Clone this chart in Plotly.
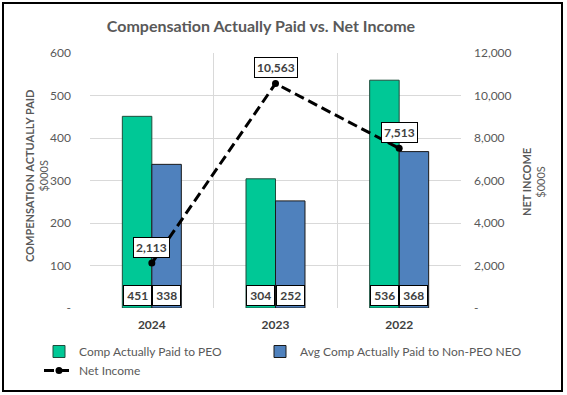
import plotly.graph_objects as go

years = ["2024", "2023", "2022"]
peo_cap = [451, 304, 536]
neo_cap = [338, 252, 368]
net_income = [2113, 10563, 7513]

left_ticks = [0, 100, 200, 300, 400, 500, 600]
right_ticks = [0, 2000, 4000, 6000, 8000, 10000, 12000]

FONT = "Lato"
GRAY = "#595959"
DARK = "#404040"
GREEN = "#00C896"
BLUE = "#4F81BD"

W, H = 567, 395
L, R, T, B = 90, 106, 53, 87
pw, ph = W - L - R, H - T - B

fig = go.Figure()
fig.add_trace(go.Bar(x=years, y=peo_cap, name="Comp Actually Paid to PEO",
                     legend="legend", legendgroup="a",
                     marker=dict(color=GREEN, line=dict(color="#1E4D3C", width=1))))
fig.add_trace(go.Bar(x=years, y=neo_cap, name="Avg Comp Actually Paid to Non-PEO NEO",
                     legend="legend2", legendgroup="b",
                     marker=dict(color=BLUE, line=dict(color="#1A1A1A", width=1))))
fig.add_trace(go.Scatter(x=years, y=net_income, name="Net Income", yaxis="y2",
                         legend="legend", legendgroup="c",
                         mode="lines+markers",
                         line=dict(color="black", width=3, dash="10px,5px"),
                         marker=dict(color="black", size=7)))

annotations = []
bw = pw / len(years) * (1 - 0.523) / 2
for i, yr in enumerate(years):
    for val, sh in ((peo_cap[i], -bw / 2), (neo_cap[i], bw / 2)):
        annotations.append(dict(x=i, y=0, xref="x", yref="y", text=f"<b>{val}</b>",
                                showarrow=False, xshift=sh, yanchor="bottom", yshift=2,
                                bgcolor="white", bordercolor="black", borderwidth=1,
                                borderpad=2, width=bw - 6,
                                font=dict(family=FONT, size=12, color=DARK)))
    annotations.append(dict(x=i, y=net_income[i], xref="x", yref="y2",
                            text=f"<b>{net_income[i]:,}</b>", showarrow=False,
                            yshift=16, yanchor="middle",
                            bgcolor="white", bordercolor="black", borderwidth=1,
                            borderpad=2, font=dict(family=FONT, size=12, color=DARK)))

# axis titles
annotations.append(dict(text="<b>COMPENSATION ACTUALLY PAID</b><br>$000S",
                        xref="paper", yref="paper", x=(36 - L) / pw, y=(T + ph - 176) / ph,
                        xanchor="center", yanchor="middle", textangle=-90, showarrow=False,
                        font=dict(family=FONT, size=11, color=GRAY)))
annotations.append(dict(text="<b>NET INCOME</b><br>$000S",
                        xref="paper", yref="paper", x=(533 - L) / pw, y=(T + ph - 182) / ph,
                        xanchor="center", yanchor="middle", textangle=-90, showarrow=False,
                        font=dict(family=FONT, size=11, color=GRAY)))

legend_font = dict(family=FONT, size=12, color=GRAY)
fig.update_layout(
    width=W, height=H,
    margin=dict(l=L, r=R, t=T, b=B, autoexpand=False),
    paper_bgcolor="white", plot_bgcolor="white",
    font=dict(family=FONT, color=GRAY, size=12),
    title=dict(text="<b>Compensation Actually Paid vs. Net Income</b>",
               x=261 / W, xref="container", xanchor="center",
               y=1 - 26 / H, yref="container", yanchor="middle",
               font=dict(family=FONT, size=16, color=GRAY)),
    barmode="group", bargap=0.523, bargroupgap=0,
    xaxis=dict(type="category", categoryorder="array", categoryarray=years,
               range=[-0.5, len(years) - 0.5], autorange=False,
               tickson="boundaries", showgrid=True,
               gridcolor="#D9D9D9", gridwidth=1, ticks="", showline=False,
               zeroline=False, ticklabelstandoff=8,
               tickfont=dict(family=FONT, size=12, color=DARK, weight="bold")),
    yaxis=dict(range=[0, 600], tickvals=left_ticks,
               ticktext=["-" if v == 0 else str(v) for v in left_ticks],
               showgrid=True, gridcolor="#D9D9D9", zeroline=False,
               showline=False, ticks="", ticklabelstandoff=18,
               tickfont=dict(family=FONT, size=12, color=GRAY)),
    yaxis2=dict(range=[0, 12000], overlaying="y", side="right", tickvals=right_ticks,
                ticktext=["-" if v == 0 else f"{v:,}" for v in right_ticks],
                showgrid=False, zeroline=False, showline=False, ticks="",
                ticklabelstandoff=12,
                tickfont=dict(family=FONT, size=12, color=GRAY)),
    legend=dict(orientation="v", x=(39 - L) / pw, xanchor="left",
                y=(T + ph - 337) / ph, yanchor="top", tracegroupgap=14,
                font=legend_font, traceorder="normal"),
    legend2=dict(orientation="v", x=(260 - L) / pw, xanchor="left",
                 y=(T + ph - 337) / ph, yanchor="top",
                 font=legend_font),
    annotations=annotations,
    shapes=[dict(type="rect", xref="paper", yref="paper",
                 x0=(3 - L) / pw, x1=(562 - L) / pw,
                 y0=(T + ph - 391) / ph, y1=(T + ph - 3) / ph,
                 line=dict(color="black", width=2), layer="above")],
)

fig.write_html("out.html", config={"displayModeBar": False},
               post_script="document.body.style.margin='0px';")
